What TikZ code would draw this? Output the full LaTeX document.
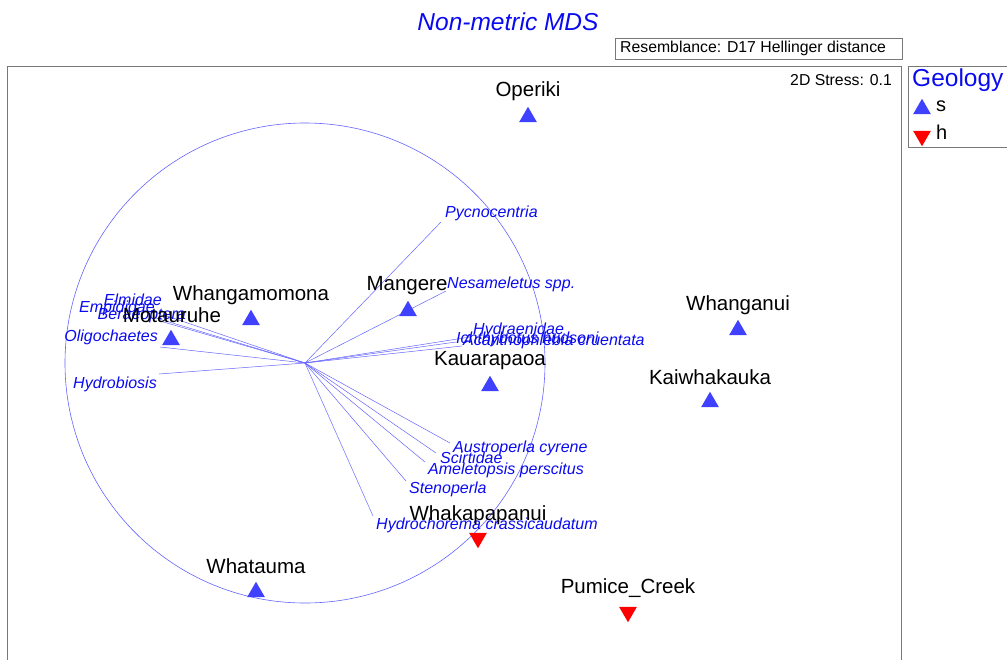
\documentclass[tikz,border=0pt]{standalone}
\usepackage{fontspec}
\setmainfont{Liberation Sans}
\usepackage{tikz}
\usetikzlibrary{shapes.geometric}

\definecolor{triblue}{RGB}{64,64,255}
\definecolor{vecblue}{RGB}{100,100,255}
\definecolor{txtblue}{RGB}{10,10,240}
\definecolor{framegray}{RGB}{120,120,120}

\tikzset{
  site/.style={inner sep=0pt, font=\fontsize{20.5}{22}\selectfont},
  spec/.style={inner sep=0pt, anchor=west, text=txtblue, font=\fontsize{16}{18}\itshape},
  specl/.style={spec, anchor=east},
  up/.style={regular polygon, regular polygon sides=3, fill=triblue, inner sep=0pt, minimum size=20.5pt},
  down/.style={up, fill=red, shape border rotate=180},
  vec/.style={draw=vecblue, line width=0.5pt}
}

\begin{document}
\begin{tikzpicture}[x=1pt, y=-1pt]
        \useasboundingbox (0,0) rectangle (1007,659);

        % title and boxes
        \node[text=txtblue, font=\fontsize{24.5}{27}\itshape] at (508,22) (title) {Non-metric MDS};
        \draw[framegray, line width=0.8pt] (615,38) rectangle (902,59);
        \node[anchor=west, inner sep=0pt, font=\fontsize{15.8}{17}\selectfont] at (620,48.5) (res) {Resemblance: D17 Hellinger distance};
        \draw[framegray, line width=1pt] (7,675) -- (7,66) -- (901,66) -- (901,675);
        \draw[framegray, line width=1pt] (1020,66) -- (908,66) -- (908,147) -- (1020,147);
        \node[anchor=east, inner sep=0pt, font=\fontsize{15.8}{17}\selectfont] at (892,80) (stress) {2D Stress: 0.1};

        % legend
        \node[anchor=west, inner sep=0pt, text=txtblue, font=\fontsize{24.5}{27}\selectfont] at (912,80) (geo) {Geology};
        \node[up] at (922,109) (leg_s) {};
        \node[anchor=west, inner sep=0pt, font=\fontsize{20}{22}\selectfont] at (936,106) (s_txt) {s};
        \node[down] at (922,136) (leg_h) {};
        \node[anchor=west, inner sep=0pt, font=\fontsize{20}{22}\selectfont] at (936,132) (h_txt) {h};

        % vector circle
        \coordinate (o) at (305,363);
        \draw[vecblue, line width=0.6pt] (o) circle (240);

        % species vectors
        \coordinate (v_pyc) at (441,222);
        \coordinate (v_nes) at (446,291);
        \coordinate (v_hyd) at (470,337);
        \coordinate (v_ich) at (456,342);
        \coordinate (v_aca) at (462,346);
        \coordinate (v_aus) at (450,443);
        \coordinate (v_sci) at (436,453);
        \coordinate (v_ame) at (425,462);
        \coordinate (v_ste) at (406,481);
        \coordinate (v_hcr) at (373,516);
        \coordinate (v_elm) at (164,315);
        \coordinate (v_emp) at (156,318);
        \coordinate (v_ber) at (160,321);
        \coordinate (v_oli) at (160,347);
        \coordinate (v_hbi) at (159,374);
        \foreach \v in {pyc,nes,hyd,ich,aca,aus,sci,ame,ste,hcr,elm,emp,ber,oli,hbi}
            \draw[vec] (o) -- (v_\v);

        \node[spec] at (445,213) (l_pyc) {Pycnocentria};
        \node[spec] at (447,284) (l_nes) {Nesameletus spp.};
        \node[spec] at (473,330) (l_hyd) {Hydraenidae};
        \node[spec] at (456,339) (l_ich) {Ichthybotus hudsoni};
        \node[spec] at (463,341) (l_aca) {Acanthophlebia cruentata};
        \node[spec] at (453,448) (l_aus) {Austroperla cyrene};
        \node[spec] at (440,458) (l_sci) {Scirtidae};
        \node[spec] at (428,470) (l_ame) {Ameletopsis perscitus};
        \node[spec] at (409,489) (l_ste) {Stenoperla};
        \node[spec] at (376,525) (l_hcr) {Hydrochorema crassicaudatum};
        \node[specl] at (162,300) (l_elm) {Elmidae};
        \node[specl] at (155,308) (l_emp) {Empididae};
        \node[specl] at (186,316) (l_ber) {Beraeoptera};
        \node[specl] at (158,337) (l_oli) {Oligochaetes};
        \node[specl] at (157,384) (l_hbi) {Hydrobiosis};

        % sites
        \node[up] at (528,117) (t_ope) {};
        \node[site] at (528,91) (n_ope) {Operiki};
        \node[up] at (251,320) (t_wmo) {};
        \node[site] at (251,295) (n_wmo) {Whangamomona};
        \node[up] at (171,340) (t_mot) {};
        \node[site] at (172,315) (n_mot) {Motauruhe};
        \node[up] at (408,311) (t_man) {};
        \node[site] at (407,286) (n_man) {Mangere};
        \node[up] at (738,330) (t_wnu) {};
        \node[site] at (738,305) (n_wnu) {Whanganui};
        \node[up] at (490,386) (t_kau) {};
        \node[site] at (490,361) (n_kau) {Kauarapaoa};
        \node[up] at (710,402) (t_kai) {};
        \node[site] at (710,377) (n_kai) {Kaiwhakauka};
        \node[down] at (478,538) (t_wpa) {};
        \node[site] at (478,515) (n_wpa) {Whakapapanui};
        \node[up] at (256,592) (t_wat) {};
        \node[site] at (256,566) (n_wat) {Whatauma};
        \node[down] at (628,612) (t_pum) {};
        \node[site] at (628,588) (n_pum) {Pumice\_Creek};
    \end{tikzpicture}
\end{document}
